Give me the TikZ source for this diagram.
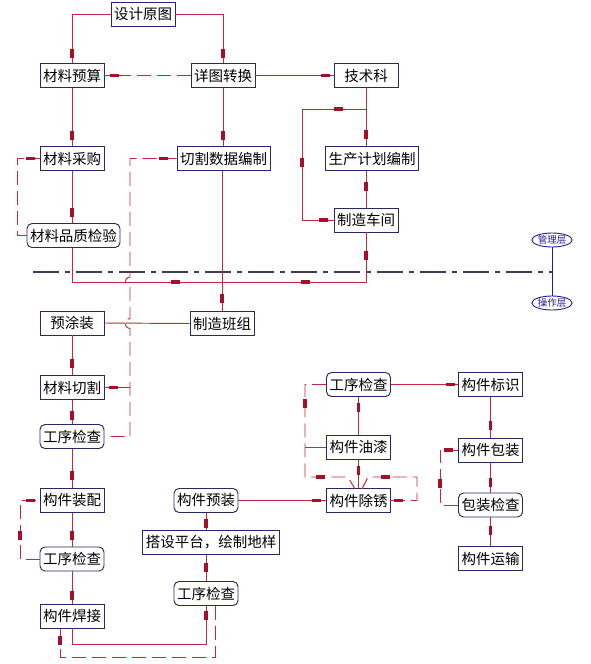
\documentclass[tikz,border=0pt]{standalone}
\usepackage{fontspec}
\newfontfamily\cjk{Noto Sans CJK SC}
\usetikzlibrary{shapes.geometric}
\definecolor{linered}{RGB}{196,40,60}
\definecolor{markred}{RGB}{165,15,40}
\definecolor{boxnavy}{RGB}{40,40,100}
\definecolor{dashdotc}{RGB}{60,60,85}
\definecolor{layerblue}{RGB}{30,30,150}
\newcommand\MarkH[2]{\fill[markred] (#1,#2) ++(-4.5,-1.8) rectangle ++(9,3.6);}
\newcommand\MarkV[2]{\fill[markred] (#1,#2) ++(-1.8,-4.5) rectangle ++(3.6,9);}
\begin{document}
\begin{tikzpicture}[x=1pt,y=-1pt,
  box/.style={draw=boxnavy, line width=0.95pt, fill=white,
    font=\cjk\fontsize{14.5}{16}\selectfont, minimum width=64pt,
    minimum height=24pt, inner xsep=3pt, inner ysep=0pt},
  rbox/.style={box, rounded corners=5pt},
  ln/.style={draw=linered, line width=0.95pt},
  dl/.style={ln, dash pattern=on 14pt off 6pt},
  layer/.style={draw=layerblue, line width=0.9pt, ellipse, fill=white,
    minimum width=40pt, minimum height=14pt, inner sep=0pt,
    text=layerblue, font=\cjk\fontsize{9.5}{10}\selectfont}]
\useasboundingbox[fill=white] (0,0) rectangle (590,664);

% layer separator
\draw[dashdotc, line width=1.2pt, dash pattern=on 26pt off 6pt on 5pt off 6pt] (33,272) -- (552,272);
\node[layer] (glc) at (552,240) {管理层};
\node[layer] (czc) at (552,303) {操作层};
\draw[layerblue, line width=1pt] (glc.south) -- (czc.north);

% nodes
\node[box] (sjyt) at (143,14) {设计原图};
\node[box] (clys) at (72,75.5) {材料预算};
\node[box] (xtzh) at (223,75.5) {详图转换};
\node[box] (jsk) at (366,75.5) {技术科};
\node[box] (clcg) at (72,158.5) {材料采购};
\node[box] (qgsj) at (223.5,158.5) {切割数据编制};
\node[box] (scjh) at (372,158.5) {生产计划编制};
\node[rbox] (clpz) at (73.5,235.5) {材料品质检验};
\node[box] (zzcj) at (366,220) {制造车间};
\node[box] (ytz) at (72,323) {预涂装};
\node[box] (zzbz) at (222,323.5) {制造班组};
\node[box] (clqg) at (72,387.5) {材料切割};
\node[rbox] (gx1) at (72,436.5) {工序检查};
\node[box] (gjzp) at (72,500.5) {构件装配};
\node[rbox] (gx2) at (72,559) {工序检查};
\node[box] (gjhj) at (72,616) {构件焊接};
\node[rbox] (gjyz) at (206,500.5) {构件预装};
\node[box] (dspt) at (211,542.5) {搭设平台，绘制地样};
\node[rbox] (gx3) at (206,593.5) {工序检查};
\node[rbox] (gx4) at (358.5,384.5) {工序检查};
\node[box] (gjbs) at (490.5,384.5) {构件标识};
\node[box] (gjyq) at (358.5,447) {构件油漆};
\node[box] (gjcx) at (358.5,500.5) {构件除锈};
\node[box] (gjbz) at (490.5,450) {构件包装};
\node[rbox] (bzjc) at (490.5,505) {包装检查};
\node[box] (gjys) at (490.5,558.5) {构件运输};

% coordinates
\coordinate (c1) at (302,109);
\coordinate (c2) at (366,282);
\coordinate (c3) at (72,282);
\coordinate (d1) at (130,158.5);
\coordinate (d2) at (130,387.5);
\coordinate (d3) at (130,436.5);
\coordinate (e1) at (72,644);
\coordinate (e2) at (60,657);
\coordinate (e3) at (215,657);
\coordinate (f1) at (305,477);
\coordinate (f2) at (417,477);
\coordinate (g1) at (440,505);
\coordinate (h1) at (17,237);
\coordinate (h2) at (20,559);

% top part
\draw[ln] (sjyt.west) -| (clys.north);
\draw[ln] (sjyt.east) -| (xtzh.north);
\MarkV{72}{53} \MarkV{223}{53}
\draw[dl] (xtzh.west) -- (clys.east);
\MarkH{114}{75.5}
\draw[ln] (xtzh.east) -- (jsk.west);
\MarkH{325}{75.5}
\draw[ln] (clys.south) -- (clcg.north);
\MarkV{72}{135}
\draw[ln] (xtzh.south) -- (xtzh.south |- qgsj.north);
\MarkV{223}{135}
\draw[ln] (jsk.south) -- (jsk.south |- scjh.north);
\MarkV{366}{134}
\draw[ln] (jsk.south |- c1) -- (c1) |- (zzcj.west);
\MarkH{338}{109} \MarkV{302}{162} \MarkH{323}{220}
\draw[ln] (jsk.south |- scjh.south) -- (zzcj.north);
\MarkV{366}{186}

% material check loop
\draw[ln] (clcg.south) -- (clcg.south |- clpz.north);
\MarkV{72}{212}
\draw[dl] (clpz.west) -- (clpz.west -| h1) -- (h1 |- clcg.west) -- (clcg.west);
\MarkH{30}{158.5}

% line at y=282
\draw[ln] (clpz.south -| c3) -- (c3) -- (c2) -- (zzcj.south);
\MarkV{366}{255} \MarkH{305}{282} \MarkH{175}{282}
\draw[ln] (qgsj.south -| zzbz.north) -- (zzbz.north);
\MarkV{222}{298}
\draw[ln] (zzbz.west) -- (ytz.east);

% dashed from cutting data
\draw[dl] (qgsj.west) -- (d1) -- (130,277) .. controls (123.5,278) and (123.5,286) .. (130,287)
  -- (130,318.5) .. controls (123.5,319.5) and (123.5,327.5) .. (130,328.5) -- (d3) -- (gx1.east);
\draw[dl] (d2) -- (clqg.east);
\MarkH{163}{158.5} \MarkH{113}{387.5}

% left column
\draw[ln] (ytz.south) -- (clqg.north);
\MarkV{72}{363}
\draw[ln] (clqg.south) -- (gx1.north);
\MarkV{72}{415}
\draw[ln] (gx1.south) -- (gjzp.north);
\MarkV{72}{475}
\draw[ln] (gjzp.south) -- (gx2.north);
\MarkV{72}{535}
\draw[dl] (gx2.west) -- (h2) -- (h2 |- gjzp.west) -- (gjzp.west);
\MarkH{30}{500.5} \MarkV{20}{535}
\draw[ln] (gx2.south) -- (gjhj.north);
\MarkV{72}{595}
\draw[ln] (gjhj.south) -- (e1) -| (gx3.south);
\MarkV{206}{615}
\draw[dl] (gx3.south -| e3) -- (e3) -- (e2) -- (e2 |- gjhj.south);
\MarkV{60}{640}

% middle column
\draw[ln] (gjyz.south) -- (gjyz.south |- dspt.north);
\MarkV{206}{523}
\draw[ln] (gjyz.south |- dspt.south) -- (gx3.north);
\MarkV{206}{567}
\draw[ln] (gjyz.east) -- (gjcx.west);
\MarkH{316}{500.5}

% right group
\draw[ln] (gx4.east) -- (gjbs.west);
\MarkH{450}{384.5}
\draw[ln] (gx4.south) -- (gjyq.north);
\MarkV{358.5}{407}
\draw[ln] (gjyq.south) -- (gjcx.north);
\MarkV{358.5}{470}
\draw[dl] (gx4.west) -| (f1) -- (348,477) -- (355,489);
\draw[ln] (f1 |- gjyq.west) -- (gjyq.west);
\MarkV{305}{403} \MarkH{320}{477}
\draw[dl] (gjcx.east) -| (f2) -- (368,477) -- (362,489);
\MarkH{398}{500.5} \MarkH{385}{477}
\draw[ln] (gjbs.south) -- (gjbz.north);
\MarkV{490.5}{425}
\draw[ln] (gjbz.south) -- (bzjc.north);
\MarkV{490.5}{482}
\draw[dl] (bzjc.west) -- (g1) -- (g1 |- gjbz.west) -- (gjbz.west);
\MarkH{448}{450} \MarkV{440}{483}
\draw[ln] (bzjc.south) -- (gjys.north);
\MarkV{490.5}{530}
\end{tikzpicture}
\end{document}
